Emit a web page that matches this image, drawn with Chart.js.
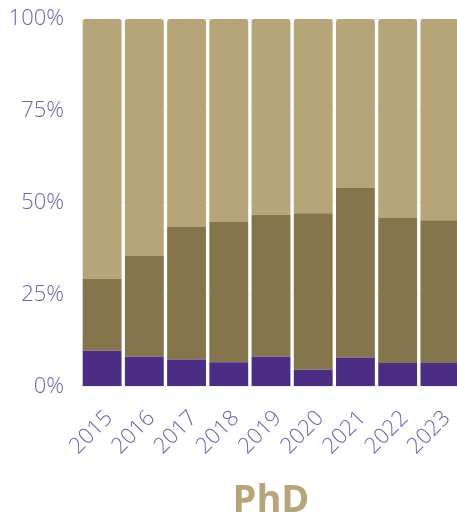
<!DOCTYPE html>
<html lang="en">
<head>
    <meta charset="UTF-8">
    <title>PhD</title>
    <script src="https://cdn.jsdelivr.net/npm/chart.js"></script>
    <style>
        html, body {
            margin: 0;
            padding: 0;
            background: #ffffff;
            overflow: hidden;
        }
        .wrap {
            width: 461px;
            height: 529px;
        }
    </style>
</head>
<body>
    <div class="wrap">
        <canvas id="phdChart"></canvas>
    </div>

    <script>
        // years on the x axis
        const years = ['2015', '2016', '2017', '2018', '2019', '2020', '2021', '2022', '2023'];
        // share of each group, in percent (bottom to top)
        const purpleShare = [9.7, 8.1, 7.3, 6.6, 8.1, 4.5, 7.9, 6.4, 6.4];
        const darkGoldShare = [19.5, 27.4, 36.1, 38.3, 38.6, 42.6, 46.1, 39.6, 38.8];
        const lightGoldShare = [70.8, 64.5, 56.6, 55.1, 53.3, 52.9, 46.0, 54.0, 54.8];
        const yTicks = [0, 25, 50, 75, 100];

        const tickColor = '#7262ab';

        const ctx = document.getElementById('phdChart').getContext('2d');
        new Chart(ctx, {
            type: 'bar',
            data: {
                labels: years,
                datasets: [
                    {
                        label: 'Group A',
                        data: purpleShare,
                        backgroundColor: '#4b2e83'
                    },
                    {
                        label: 'Group B',
                        data: darkGoldShare,
                        backgroundColor: '#85754d'
                    },
                    {
                        label: 'Group C',
                        data: lightGoldShare,
                        backgroundColor: '#b7a57a',
                        borderRadius: { topLeft: 3, topRight: 3, bottomLeft: 0, bottomRight: 0 },
                        borderSkipped: false
                    }
                ]
            },
            options: {
                responsive: true,
                maintainAspectRatio: false,
                animation: false,
                layout: {
                    padding: { top: 19, right: 0, left: 0, bottom: 5 }
                },
                datasets: {
                    bar: {
                        categoryPercentage: 0.92,
                        barPercentage: 1
                    }
                },
                plugins: {
                    legend: { display: false },
                    tooltip: { enabled: false },
                    title: {
                        display: true,
                        text: 'PhD',
                        position: 'bottom',
                        fullSize: false,
                        color: '#b7a57a',
                        font: { family: 'Open Sans', size: 38, weight: 'bold' },
                        padding: { top: 0, bottom: 0 }
                    }
                },
                scales: {
                    x: {
                        stacked: true,
                        grid: { display: false },
                        border: { display: false },
                        afterFit: (axis) => {
                            axis.height = 92;
                            axis.paddingLeft = 0;
                            axis.paddingRight = 0;
                        },
                        ticks: {
                            color: tickColor,
                            autoSkip: false,
                            minRotation: 45,
                            maxRotation: 45,
                            padding: 11,
                            labelOffset: 7,
                            font: { family: 'Open Sans', size: 22, weight: '300' }
                        }
                    },
                    y: {
                        stacked: true,
                        min: 0,
                        max: 100,
                        afterBuildTicks: (axis) => {
                            axis.ticks = yTicks.map(v => ({ value: v }));
                        },
                        afterFit: (axis) => {
                            axis.width = 81;
                            axis.paddingTop = 0;
                            axis.paddingBottom = 0;
                        },
                        grid: { color: '#eeeeee', drawTicks: false },
                        border: { display: false },
                        ticks: {
                            color: tickColor,
                            padding: 17,
                            font: { family: 'Open Sans', size: 22, weight: '300' },
                            callback: (v) => v + '%'
                        }
                    }
                }
            }
        });
    </script>
</body>
</html>
